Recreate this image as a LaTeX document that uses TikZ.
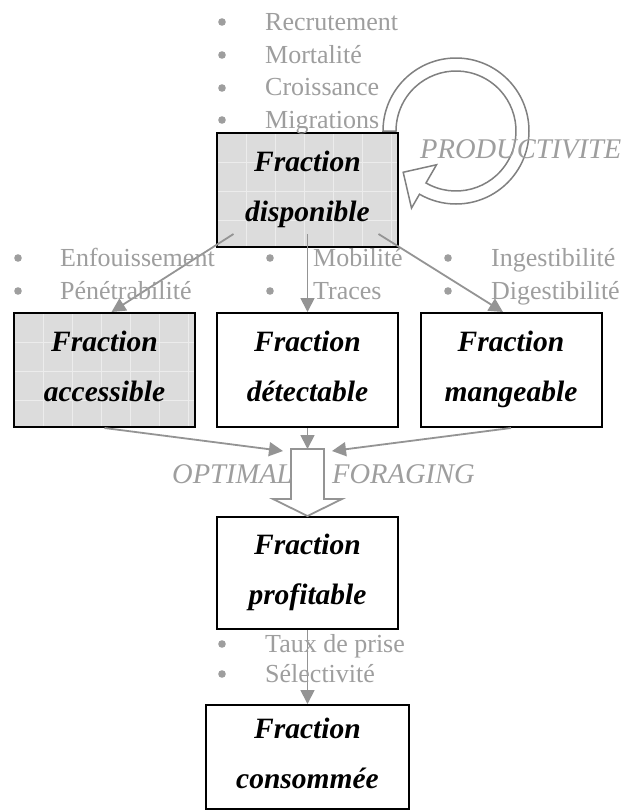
\documentclass[tikz,border=0pt]{standalone}
\usepackage{fontspec}
\setmainfont{Liberation Serif}
\usetikzlibrary{positioning,arrows.meta,calc}
\definecolor{fdGrey}{RGB}{158,158,158}
\definecolor{fdArrow}{RGB}{148,148,148}
\definecolor{fdRing}{RGB}{128,128,128}
\definecolor{fdShade}{RGB}{220,220,220}
\definecolor{fdGrid}{RGB}{236,236,236}
\newcommand{\boxfont}{\fontsize{29.5}{50}\selectfont\bfseries\itshape}
\newcommand{\notefont}{\fontsize{26}{30}\selectfont}
\newcommand{\capfont}{\fontsize{28.5}{30}\selectfont\itshape}
\tikzset{
  fracBox/.style={draw=black, line width=2pt, minimum width=181pt,
    minimum height=114pt, align=center, font=\boxfont, inner sep=0pt,
    text depth=7pt},
  fracShade/.style={fracBox, fill=fdShade,
    path picture={
      \foreach \k in {1,...,6}
        \draw[gridLine] ($(path picture bounding box.north west)+(29*\k,0)$) -- ++(0,120);
      \foreach \k in {1,...,3}
        \draw[gridLine] ($(path picture bounding box.north west)+(0,29*\k)$) -- ++(190,0);
    }},
  gridLine/.style={draw=fdGrid, line width=.8pt},
  noteText/.style={font=\notefont, text=fdGrey, anchor=base west, inner sep=0pt},
  noteDot/.style={fill=fdGrey},
  capText/.style={font=\capfont, text=fdGrey, anchor=base west, inner sep=0pt},
  flowArrow/.style={-{Triangle[length=14pt,width=14pt]}, line width=1.8pt,
    draw=fdArrow},
  hollowArrow/.style={draw=fdArrow, fill=white, line width=1.8pt, line join=miter},
  ringArrow/.style={draw=fdRing, fill=white, line width=1.5pt, line join=miter}
}

\begin{document}
\begin{tikzpicture}[x=1pt,y=-1pt]
\path[use as bounding box, fill=white] (0,0) rectangle (626,812);
% productivity loop
\coordinate (loopC) at (456,131);
\filldraw[ringArrow] ($(loopC)+(180:73)$) arc[start angle=180,end angle=480,radius=73]
  -- ($(loopC)+(480:89)$) -- ($(loopC)+(502:67)$) -- ($(loopC)+(480:39)$)
  -- ($(loopC)+(480:60)$) arc[start angle=480,end angle=180,radius=60] -- cycle;
% fractions
\node[fracShade] (disp) at (307.5,190) {Fraction\\disponible};
\node[fracShade] (acc) at (104.5,370) {Fraction\\accessible};
\node[fracBox] (det) at (307.5,370) {Fraction\\détectable};
\node[fracBox] (mang) at (511,370) {Fraction\\mangeable};
\node[fracBox,minimum height=112pt] (prof) at (307.5,573) {Fraction\\profitable};
\node[fracBox,minimum width=203pt,minimum height=104pt] (cons) at (307.5,757) {Fraction\\consommée};
% flows
\draw[flowArrow] ($(disp.south)+(-74,-14)$) -- ($(acc.north)+(7,0)$);
\draw[flowArrow] ($(disp.south)+(0,-14)$) -- (det.north);
\draw[flowArrow] ($(disp.south)+(71,-14)$) -- ($(mang.north)+(-8,0)$);
\coordinate (forL) at (283,451);
\coordinate (forM) at (307.5,449);
\coordinate (forR) at (332,451);
\draw[flowArrow] (acc.south) -- (forL);
\draw[flowArrow] (det.south) -- (forM);
\draw[flowArrow] (mang.south) -- (forR);
\draw[hollowArrow] (291,449) -- (324,449) -- (324,499) -- (342,499) -- (prof.north)
  -- (273,499) -- (291,499) -- cycle;
\draw[flowArrow] (prof.south) -- (cons.north);
% labels
\node[capText] (prodLbl) at (420,158) {PRODUCTIVITE};
\node[capText] (optLbl) at (172,483) {OPTIMAL};
\node[capText] (forLbl) at (332,483) {FORAGING};
% notes
\fill[noteDot] (222,22) circle (3.8);
\node[noteText] (recr) at (265,30) {Recrutement};
\fill[noteDot] (222,55) circle (3.8);
\node[noteText] (mort) at (265,63) {Mortalité};
\fill[noteDot] (222,88) circle (3.8);
\node[noteText] (crois) at (265,95.5) {Croissance};
\fill[noteDot] (222,120) circle (3.8);
\node[noteText] (migr) at (265,128) {Migrations};
\fill[noteDot] (18,258) circle (3.8);
\node[noteText] (enf) at (60,266) {Enfouissement};
\fill[noteDot] (18,291) circle (3.8);
\node[noteText] (pen) at (60,299) {Pénétrabilité};
\fill[noteDot] (270,258) circle (3.8);
\node[noteText] (mob) at (313,266) {Mobilité};
\fill[noteDot] (270,291) circle (3.8);
\node[noteText] (trac) at (313,299) {Traces};
\fill[noteDot] (448,258) circle (3.8);
\node[noteText] (ingest) at (491,266) {Ingestibilité};
\fill[noteDot] (448,291) circle (3.8);
\node[noteText] (digest) at (491,299) {Digestibilité};
\fill[noteDot] (222,644) circle (3.8);
\node[noteText] (taux) at (265,652) {Taux de prise};
\fill[noteDot] (222,674) circle (3.8);
\node[noteText] (select) at (265,682) {Sélectivité};
\end{tikzpicture}
\end{document}
